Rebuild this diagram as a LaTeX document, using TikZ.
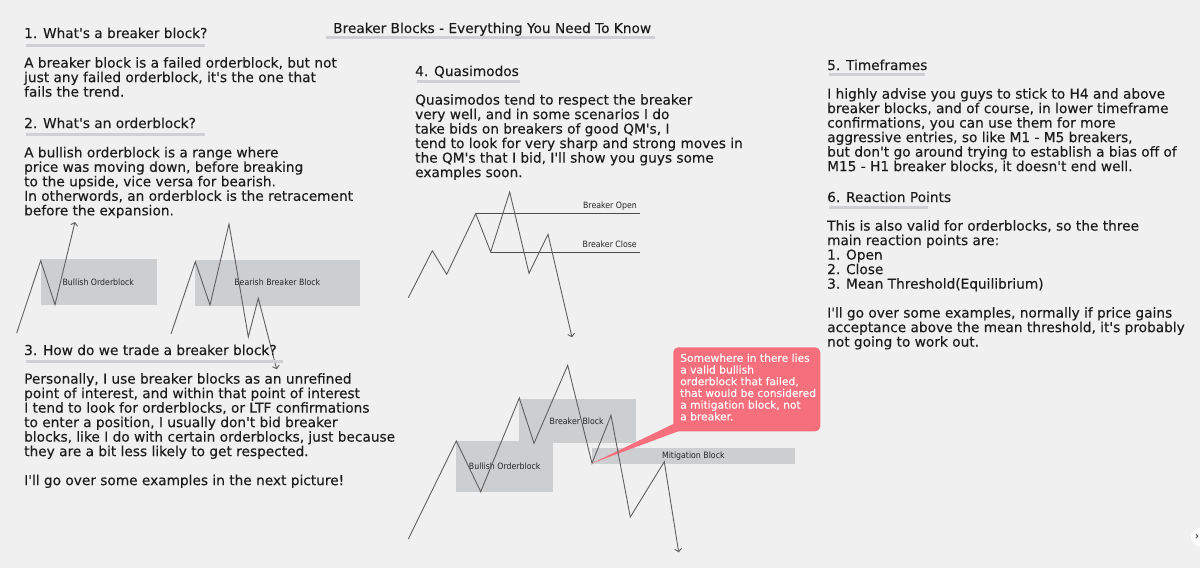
\documentclass[tikz,border=0pt]{standalone}
\usepackage{fontspec}
\usetikzlibrary{arrows.meta}
\newfontfamily\refbody[FakeBold=0.15]{DejaVu Sans}
\newfontfamily\refsmall[FakeStretch=0.9]{DejaVu Sans}
\definecolor{bgc}{HTML}{F0F0F0}
\definecolor{inkc}{HTML}{1C1C1C}
\definecolor{barc}{HTML}{CFD0D3}
\definecolor{blockc}{HTML}{CDCED0}
\definecolor{linec}{HTML}{606060}
\definecolor{notec}{HTML}{F66F7C}
\newcommand{\fs}{\rule{0pt}{10pt}}
\tikzset{
  x=1pt,y=-1pt,
  para/.style={anchor=north west,inner sep=0pt,align=left,text=inkc,font=\refbody\fontsize{13.7}{14.5}\selectfont},
  head/.style={anchor=base west,inner sep=0pt,text=inkc,font=\refbody\fontsize{13.7}{14.5}\selectfont},
  bar/.style={draw=barc,line width=3pt},
  block/.style={fill=blockc,draw=none},
  small/.style={inner sep=0pt,text=black!85,font=\refsmall\fontsize{8.7}{10}\selectfont},
  price/.style={draw=linec,line width=0.9pt,line join=miter},
  pricearrow/.style={price,-{Straight Barb[length=3pt,width=7pt]}},
  level/.style={draw=black!70,line width=0.9pt},
  notetext/.style={anchor=north west,inner sep=0pt,align=left,text=white,font=\refbody\fontsize{10.7}{11.7}\selectfont}
}
\begin{document}
\begin{tikzpicture}
\useasboundingbox (0,0) rectangle (1200,568);
\fill[bgc] (0,0) rectangle (1200,568);

% title and headings
\draw[bar] (326,37) -- (655,37);
\node[head] (title) at (333,33) {Breaker Blocks - Everything You Need To Know};
\draw[bar] (26,45) -- (205,45);
\node[head] (h1) at (24,38) {1. What's a breaker block?};
\node[para] (b1) at (24,57) {\fs A breaker block is a failed orderblock, but not\\just any failed orderblock, it's the one that\\fails the trend.};
\draw[bar] (26,134.5) -- (205,134.5);
\node[head] (h2) at (24,128) {2. What's an orderblock?};
\node[para] (b2) at (24,146.7) {\fs A bullish orderblock is a range where\\price was moving down, before breaking\\to the upside, vice versa for bearish.\\In otherwords, an orderblock is the retracement\\before the expansion.};

% chart 1
\fill[block] (40.7,259.3) rectangle (157,305);
\node[small] (c1) at (98.3,282) {Bullish Orderblock};
\draw[pricearrow] (16.7,333) -- (40.7,260.7) -- (55,304.7) -- (75,222);

% chart 2
\fill[block] (195,260) rectangle (360.3,305.7);
\node[small] (c2) at (277.3,282.7) {Bearish Breaker Block};
\draw[pricearrow] (171,334) -- (195.3,261.7) -- (210,305) -- (229,224) -- (248.3,337) -- (258.3,298.3) -- (276.7,369.3);

\draw[bar] (26,361.5) -- (283,361.5);
\node[head] (h3) at (24,355) {3. How do we trade a breaker block?};
\node[para] (b3) at (24,373) {\fs Personally, I use breaker blocks as an unrefined\\point of interest, and within that point of interest\\I tend to look for orderblocks, or LTF confirmations\\to enter a position, I usually don't bid breaker\\blocks, like I do with certain orderblocks, just because\\they are a bit less likely to get respected.\\[14.5pt]I'll go over some examples in the next picture!};

% column 2
\draw[bar] (417,81) -- (520,81);
\node[head] (h4) at (415,76) {4. Quasimodos};
\node[para] (b4) at (415,94) {\fs Quasimodos tend to respect the breaker\\very well, and in some scenarios I do\\take bids on breakers of good QM's, I\\tend to look for very sharp and strong moves in\\the QM's that I bid, I'll show you guys some\\examples soon.};

% chart 3
\draw[level] (475.7,213.7) -- (640,213.7);
\draw[level] (490.7,252) -- (640,252);
\node[small,anchor=east] (c3a) at (637,206) {Breaker Open};
\node[small,anchor=east] (c3b) at (637,244.7) {Breaker Close};
\draw[pricearrow] (408.3,297.7) -- (432.3,250.7) -- (446.7,274.3) -- (475.7,213.7) -- (490.7,252) -- (509.7,192) -- (529,273.3) -- (548,234.3) -- (572,337.3);

% chart 4
\fill[block] (456,441) rectangle (553.3,492);
\fill[block] (519.3,399.3) rectangle (635.7,443.3);
\fill[block] (591.7,448) rectangle (795,464);
\node[small] (c4a) at (504.7,466) {Bullish Orderblock};
\node[small] (c4b) at (576.7,421) {Breaker Block};
\node[small] (c4c) at (693.3,456) {Mitigation Block};
\fill[notec,rounded corners=5pt] (673.3,347.3) rectangle (820.3,431.3);
\fill[notec] (592,463.3) -- (673.3,424) -- (679,431) -- cycle;
\node[notetext] (note) at (680,353.5) {Somewhere in there lies\\a valid bullish\\orderblock that failed,\\that would be considered\\a mitigation block, not\\a breaker.};
\draw[pricearrow] (408.3,539) -- (456.3,441) -- (480.7,491.7) -- (519.3,398) -- (534,443.3) -- (567.7,365.3) -- (592,463.3) -- (611,415.3) -- (630.3,517) -- (664.3,461.7) -- (678.7,552.3);

% column 3
\draw[bar] (829,74.5) -- (925,74.5);
\node[head] (h5) at (827,70) {5. Timeframes};
\node[para] (b5) at (827,88) {\fs I highly advise you guys to stick to H4 and above\\breaker blocks, and of course, in lower timeframe\\confirmations, you can use them for more\\aggressive entries, so like M1 - M5 breakers,\\but don't go around trying to establish a bias off of\\M15 - H1 breaker blocks, it doesn't end well.};
\draw[bar] (829,207) -- (928,207);
\node[head] (h6) at (827,202) {6. Reaction Points};
\node[para] (b6) at (827,220) {\fs This is also valid for orderblocks, so the three\\main reaction points are:\\1. Open\\2. Close\\3. Mean Threshold(Equilibrium)\\[14.5pt]I'll go over some examples, normally if price gains\\acceptance above the mean threshold, it's probably\\not going to work out.};

% scroll button
\fill[white] (1200,537) circle (9);
\node[inner sep=0pt,text=black!70,font=\refbody\fontsize{10}{10}\selectfont] (next) at (1197,536.5) {›};
\end{tikzpicture}
\end{document}
